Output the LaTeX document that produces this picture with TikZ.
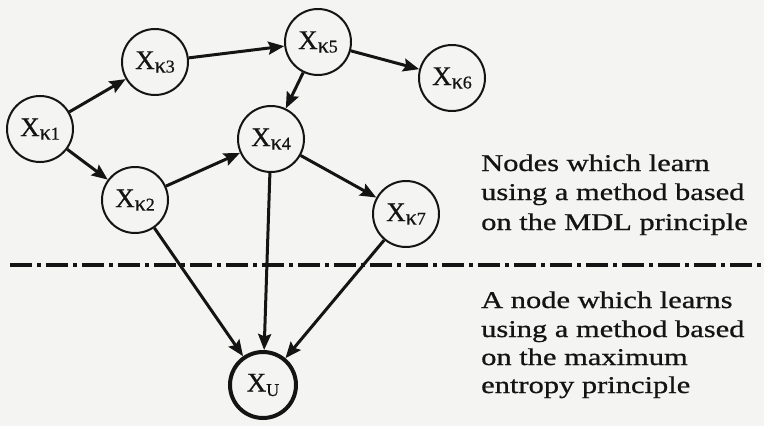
\documentclass[tikz,border=0pt]{standalone}
\usepackage{fontspec}
\setmainfont{Liberation Serif}[FakeBold=0.6]
\newfontfamily\bodyfont[FakeStretch=1.27,FakeBold=0.8]{Liberation Serif}
\usetikzlibrary{arrows.meta}
\definecolor{paper}{RGB}{244,244,242}
\definecolor{ink}{RGB}{20,20,20}
% X with a lowered subscript: a kappa and an index, or a plain letter
\newcommand\kaplab[1]{X\raisebox{-3.5pt}{\fontsize{22}{22}\selectfont κ\fontsize{18}{18}\selectfont #1}}
\newcommand\letlab[1]{X\raisebox{-4.5pt}{\fontsize{18}{18}\selectfont #1}}
\tikzset{
  var/.style={circle, draw=ink, line width=2pt, minimum size=66pt, inner sep=0pt,
              text=ink, font=\fontsize{27}{27}\selectfont},
  target/.style={var, line width=4pt},
  link/.style={draw=ink, line width=3pt, -{Stealth[length=16pt,width=13pt,inset=2.5pt]}},
  divider/.style={draw=ink, line width=3.5pt, dash pattern=on 22pt off 5pt on 4pt off 5pt},
  note/.style={anchor=base west, inner sep=0pt, text=ink, font=\bodyfont\fontsize{24}{29}\selectfont}
}
\begin{document}
\begin{tikzpicture}[x=1pt, y=-1pt]
  \fill[paper] (0,0) rectangle (764,426);
  \useasboundingbox (0,0) rectangle (764,426);

  % variables of the network
  \node[var] (k1) at (40,129) {\kaplab{1}};
  \node[var] (k3) at (155,62) {\kaplab{3}};
  \node[var] (k5) at (318,42) {\kaplab{5}};
  \node[var] (k6) at (452,78) {\kaplab{6}};
  \node[var] (k4) at (271,139) {\kaplab{4}};
  \node[var] (k2) at (135,200) {\kaplab{2}};
  \node[var] (k7) at (406,214) {\kaplab{7}};
  \node[target] (xu) at (263,385) {\letlab{U}};

  % dependencies
  \draw[link] (k1) -- (k3);
  \draw[link] (k1) -- (k2);
  \draw[link] (k3) -- (k5);
  \draw[link] (k5) -- (k6);
  \draw[link] (k5) -- (k4);
  \draw[link] (k2) -- (k4);
  \draw[link] (k4) -- (k7);
  \draw[link] (k2) -- (xu);
  \draw[link] (k4) -- (xu);
  \draw[link] (k7) -- (xu);

  % boundary between the two learning methods
  \coordinate (dl) at (10,265);
  \coordinate (dr) at (764,265);
  \draw[divider] (dl) -- (dr);

  % explanations
  \node[note] (a1) at (481,171) {Nodes which learn};
  \node[note] (a2) at (481,200) {using a method based};
  \node[note] (a3) at (481,230) {on the MDL principle};
  \node[note] (b1) at (481,308) {A node which learns};
  \node[note] (b2) at (481,337) {using a method based};
  \node[note] (b3) at (481,365) {on the maximum};
  \node[note] (b4) at (481,393) {entropy principle};
\end{tikzpicture}
\end{document}
